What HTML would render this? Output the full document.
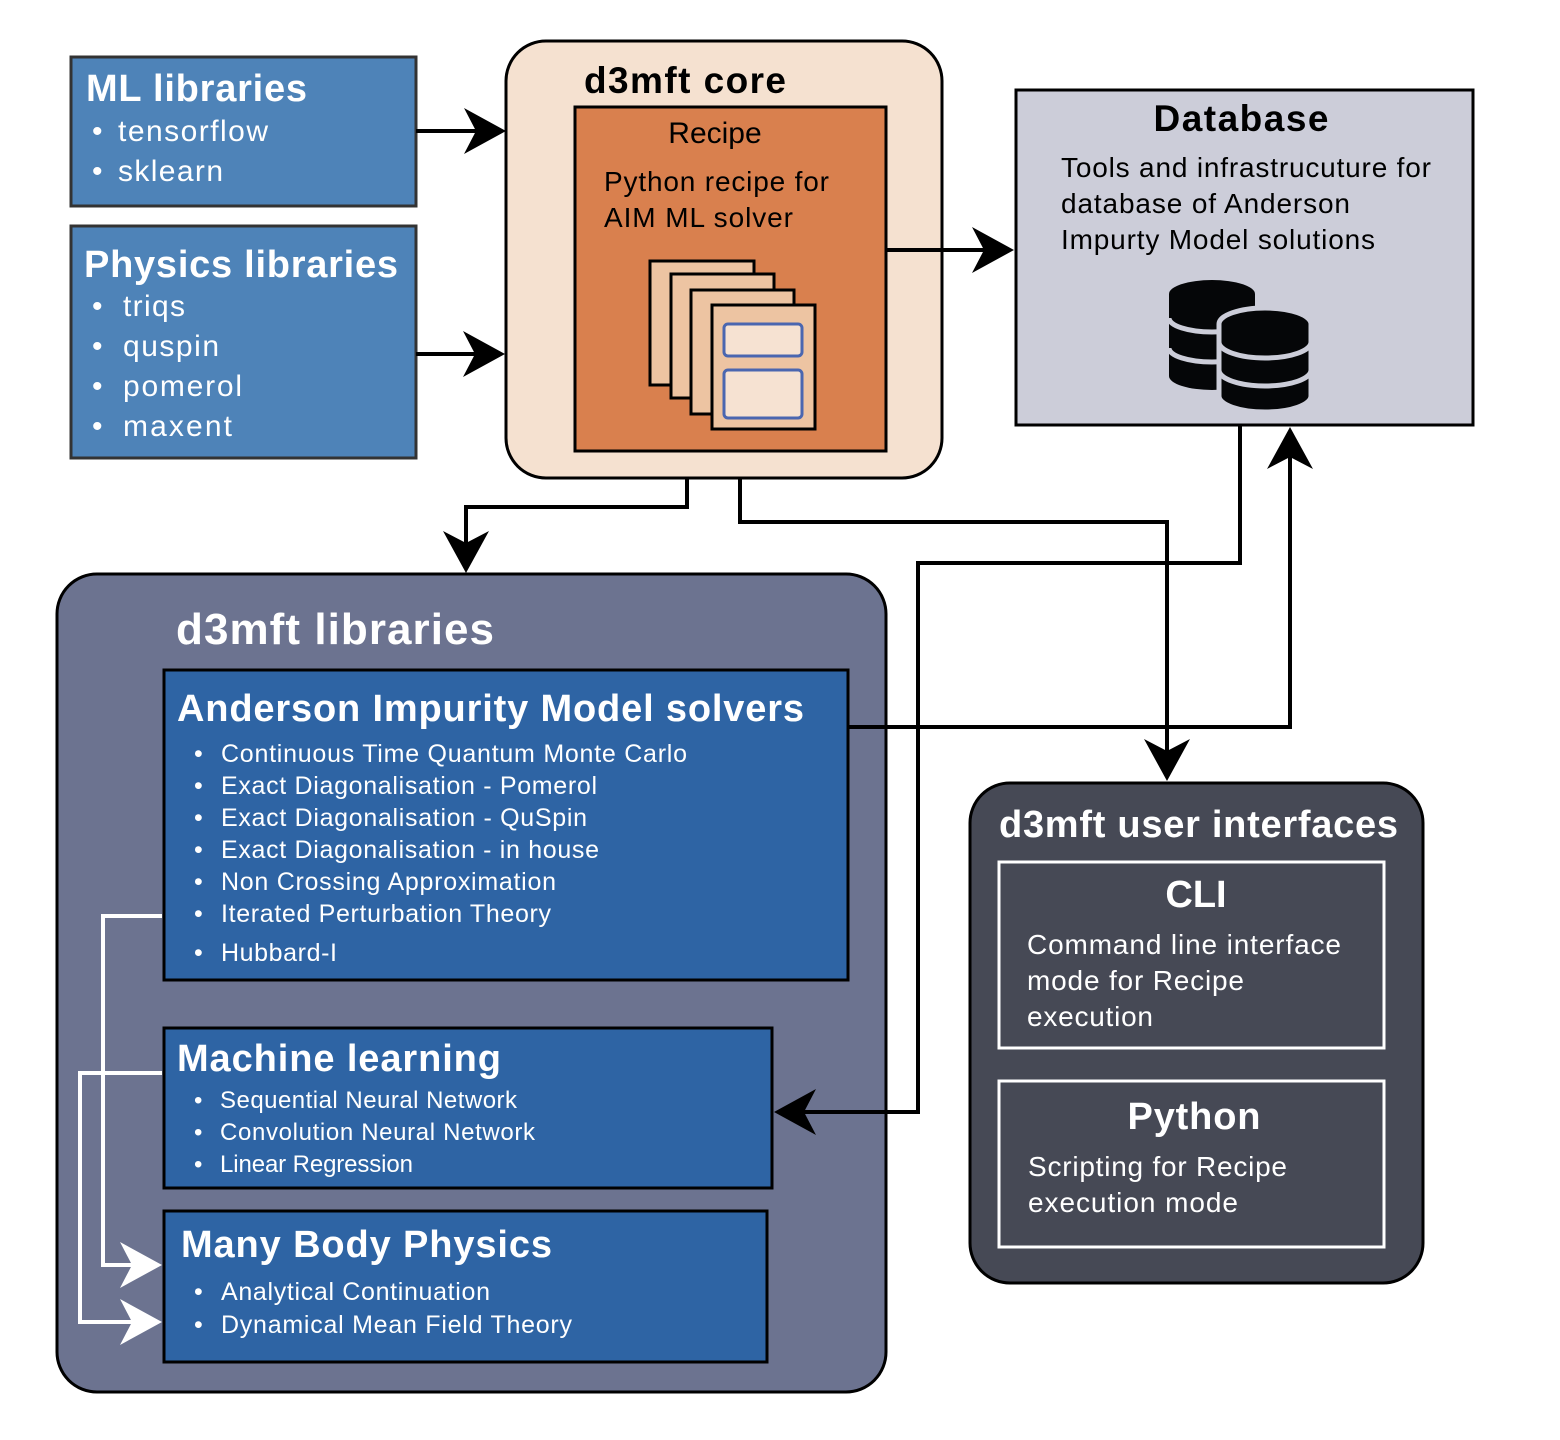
<!DOCTYPE html>
<html><head><meta charset="utf-8"><style>
html,body{margin:0;padding:0;background:#fff;}
svg{display:block;}
text{font-family:"Liberation Sans",sans-serif;}
</style></head><body>
<svg width="1560" height="1440" viewBox="0 0 1560 1440" xmlns="http://www.w3.org/2000/svg">
<!-- ML libraries -->
<rect x="71" y="57" width="345" height="149" fill="#4e83b8" stroke="#333" stroke-width="3"/>
<text x="86" y="101" font-size="38" font-weight="bold" fill="#fff" textLength="221">ML libraries</text>
<g font-size="30" fill="#fff">
<text x="92" y="141">•</text><text x="118" y="141" textLength="150">tensorflow</text>
<text x="92" y="181">•</text><text x="118" y="181" textLength="105">sklearn</text>
</g>
<!-- Physics -->
<rect x="71" y="226" width="345" height="232" fill="#4e83b8" stroke="#333" stroke-width="3"/>
<text x="84" y="277" font-size="38" font-weight="bold" fill="#fff" textLength="314">Physics libraries</text>
<g font-size="30" fill="#fff">
<text x="92" y="316">•</text><text x="123" y="316" textLength="62">triqs</text>
<text x="92" y="356">•</text><text x="123" y="356" textLength="96">quspin</text>
<text x="92" y="396">•</text><text x="123" y="396" textLength="119">pomerol</text>
<text x="92" y="436">•</text><text x="123" y="436" textLength="109">maxent</text>
</g>
<!-- core -->
<rect x="506" y="41" width="436" height="437" rx="40" fill="#f5e1d0" stroke="#000" stroke-width="3"/>
<text x="584" y="93" font-size="37" font-weight="bold" fill="#000" textLength="202">d3mft core</text>
<rect x="575" y="107" width="311" height="344" fill="#d9804e" stroke="#000" stroke-width="3"/>
<text x="715" y="143" font-size="30" text-anchor="middle">Recipe</text>
<text x="604" y="191" font-size="28" textLength="225">Python recipe for</text>
<text x="604" y="227" font-size="28" textLength="189">AIM ML solver</text>
<g fill="#edc4a2" stroke="#000" stroke-width="3">
<rect x="650" y="261" width="104" height="124"/>
<rect x="671" y="274" width="103" height="124"/>
<rect x="691" y="290" width="103" height="124"/>
<rect x="712" y="305" width="103" height="124"/>
</g>
<g fill="#f6e2d2" stroke="#4a66b0" stroke-width="3">
<rect x="724" y="324" width="78" height="32" rx="4"/>
<rect x="724" y="370" width="78" height="48" rx="4"/>
</g>
<!-- Database -->
<rect x="1016" y="90" width="457" height="335" fill="#cccdd9" stroke="#000" stroke-width="3"/>
<text x="1241" y="131" font-size="37" font-weight="bold" text-anchor="middle" textLength="175">Database</text>
<g font-size="28">
<text x="1061" y="177" textLength="370">Tools and infrastrucuture for</text>
<text x="1061" y="213" textLength="289">database of Anderson</text>
<text x="1061" y="249" textLength="314">Impurty Model solutions</text>
</g>
<g>
<path d="M1169 294 a43 14 0 0 1 86 0 v82 a43 14 0 0 1 -86 0z" fill="#050608"/>
<path d="M1169 318 a43 14 0 0 0 86 0 M1169 348 a43 14 0 0 0 86 0" fill="none" stroke="#cccdd9" stroke-width="5"/>
<path d="M1219 324 a46 16 0 0 1 92 0 v72 a46 16 0 0 1 -92 0z" fill="#050608" stroke="#cccdd9" stroke-width="5"/>
<path d="M1219 342 a46 16 0 0 0 92 0 M1219 370 a46 16 0 0 0 92 0" fill="none" stroke="#cccdd9" stroke-width="5"/>
</g>
<!-- libraries container -->
<rect x="57" y="574" width="829" height="818" rx="40" fill="#6c7390" stroke="#000" stroke-width="3"/>
<text x="176" y="644" font-size="44" font-weight="bold" fill="#fff" textLength="318">d3mft libraries</text>
<rect x="164" y="670" width="684" height="310" fill="#2e64a4" stroke="#000" stroke-width="3"/>
<text x="177" y="721" font-size="38" font-weight="bold" fill="#fff" textLength="627">Anderson Impurity Model solvers</text>
<g font-size="25" fill="#fff">
<text x="194" y="762">•</text><text x="221" y="762" textLength="466">Continuous Time Quantum Monte Carlo</text>
<text x="194" y="794">•</text><text x="221" y="794" textLength="376">Exact Diagonalisation - Pomerol</text>
<text x="194" y="826">•</text><text x="221" y="826" textLength="366">Exact Diagonalisation - QuSpin</text>
<text x="194" y="858">•</text><text x="221" y="858" textLength="378">Exact Diagonalisation - in house</text>
<text x="194" y="890">•</text><text x="221" y="890" textLength="335">Non Crossing Approximation</text>
<text x="194" y="922">•</text><text x="221" y="922" textLength="330">Iterated Perturbation Theory</text>
<text x="194" y="961">•</text><text x="221" y="961" textLength="116">Hubbard-I</text>
</g>
<rect x="164" y="1028" width="608" height="160" fill="#2e64a4" stroke="#000" stroke-width="3"/>
<text x="177" y="1071" font-size="38" font-weight="bold" fill="#fff" textLength="324">Machine learning</text>
<g font-size="24" fill="#fff">
<text x="194" y="1108">•</text><text x="220" y="1108" textLength="297">Sequential Neural Network</text>
<text x="194" y="1140">•</text><text x="220" y="1140" textLength="315">Convolution Neural Network</text>
<text x="194" y="1172">•</text><text x="220" y="1172" textLength="193">Linear Regression</text>
</g>
<rect x="164" y="1211" width="603" height="151" fill="#2e64a4" stroke="#000" stroke-width="3"/>
<text x="181" y="1257" font-size="38" font-weight="bold" fill="#fff" textLength="371">Many Body Physics</text>
<g font-size="25" fill="#fff">
<text x="194" y="1300">•</text><text x="221" y="1300" textLength="269">Analytical Continuation</text>
<text x="194" y="1333">•</text><text x="221" y="1333" textLength="351">Dynamical Mean Field Theory</text>
</g>
<!-- UI -->
<rect x="970" y="783" width="453" height="500" rx="40" fill="#464955" stroke="#000" stroke-width="3"/>
<text x="999" y="837" font-size="38" font-weight="bold" fill="#fff" textLength="399">d3mft user interfaces</text>
<rect x="999" y="862" width="385" height="186" fill="none" stroke="#fff" stroke-width="3"/>
<text x="1196" y="907" font-size="38" font-weight="bold" fill="#fff" text-anchor="middle">CLI</text>
<g font-size="28" fill="#fff">
<text x="1027" y="954" textLength="314">Command line interface</text>
<text x="1027" y="990" textLength="217">mode for Recipe</text>
<text x="1027" y="1026" textLength="126">execution</text>
</g>
<rect x="999" y="1081" width="385" height="166" fill="none" stroke="#fff" stroke-width="3"/>
<text x="1194" y="1129" font-size="38" font-weight="bold" fill="#fff" text-anchor="middle" textLength="133">Python</text>
<g font-size="28" fill="#fff">
<text x="1028" y="1176" textLength="259">Scripting for Recipe</text>
<text x="1028" y="1212" textLength="210">execution mode</text>
</g>
<!-- black connectors -->
<g fill="none" stroke="#000" stroke-width="4">
<path d="M416 131 H490"/>
<path d="M416 354 H490"/>
<path d="M886 250 H1000"/>
<path d="M687 478 V507 H466 V555"/>
<path d="M740 478 V522 H1167 V765"/>
<path d="M1240 425 V563 H918 V1112 H790"/>
<path d="M848 727 H1290 V445"/>
</g>
<g fill="#000">
<path d="M506 131 L464 108 L476 131 L464 154Z"/>
<path d="M505 354 L463 331 L475 354 L463 377Z"/>
<path d="M1014 250 L972 227 L984 250 L972 273Z"/>
<path d="M466 573 L443 531 L466 543 L489 531Z"/>
<path d="M1167 781 L1144 739 L1167 751 L1190 739Z"/>
<path d="M774 1112 L816 1089 L804 1112 L816 1135Z"/>
<path d="M1290 427 L1267 469 L1290 457 L1313 469Z"/>
</g>
<!-- white connectors -->
<g fill="none" stroke="#fff" stroke-width="4">
<path d="M162 916 H103 V1265 H145"/>
<path d="M162 1073 H80 V1322 H145"/>
</g>
<g fill="#fff">
<path d="M162 1265 L120 1242 L132 1265 L120 1288Z"/>
<path d="M162 1322 L120 1299 L132 1322 L120 1345Z"/>
</g>
</svg>
</body></html>
